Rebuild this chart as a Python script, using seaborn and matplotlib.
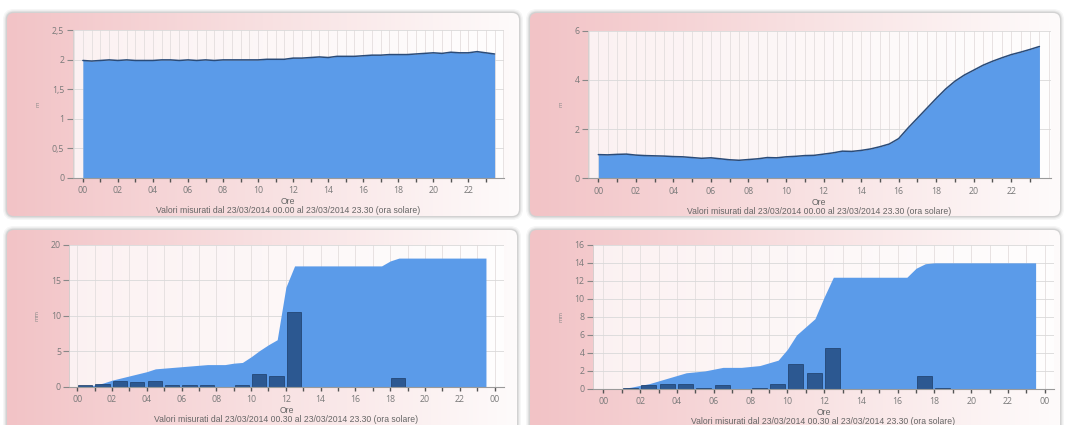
import numpy as np
import matplotlib
matplotlib.use('Agg')
from matplotlib import pyplot as plt
from matplotlib.patches import FancyBboxPatch
from matplotlib.colors import LinearSegmentedColormap
from matplotlib.ticker import FixedLocator, FuncFormatter, MultipleLocator
import seaborn as sns

# half-hourly readings, 00.00 .. 23.30
TIME = [0.0, 0.5, 1.0, 1.5, 2.0, 2.5, 3.0, 3.5, 4.0, 4.5, 5.0, 5.5,
        6.0, 6.5, 7.0, 7.5, 8.0, 8.5, 9.0, 9.5, 10.0, 10.5, 11.0, 11.5,
        12.0, 12.5, 13.0, 13.5, 14.0, 14.5, 15.0, 15.5, 16.0, 16.5, 17.0, 17.5,
        18.0, 18.5, 19.0, 19.5, 20.0, 20.5, 21.0, 21.5, 22.0, 22.5, 23.0, 23.5]

# water level (m), station A
LEVEL_A = [1.99, 1.98, 1.99, 2.00, 1.99, 2.00, 1.99, 1.99,
           1.99, 2.00, 2.00, 1.99, 2.00, 1.99, 2.00, 1.99,
           2.00, 2.00, 2.00, 2.00, 2.00, 2.01, 2.01, 2.01,
           2.03, 2.03, 2.04, 2.05, 2.04, 2.06, 2.06, 2.06,
           2.07, 2.08, 2.08, 2.09, 2.09, 2.09, 2.10, 2.11,
           2.12, 2.11, 2.13, 2.12, 2.12, 2.14, 2.12, 2.10]

# water level (m), station B
LEVEL_B = [0.97, 0.96, 0.98, 0.99, 0.95, 0.93, 0.92, 0.91,
           0.89, 0.88, 0.85, 0.82, 0.84, 0.80, 0.76, 0.74,
           0.77, 0.80, 0.85, 0.84, 0.88, 0.90, 0.93, 0.94,
           0.99, 1.04, 1.11, 1.10, 1.14, 1.20, 1.29, 1.40,
           1.62, 2.05, 2.45, 2.85, 3.25, 3.63, 3.95, 4.20,
           4.40, 4.60, 4.76, 4.90, 5.03, 5.13, 5.24, 5.36]

# cumulative rain (mm), gauge A
RAIN_CUM_A = [0.0, 0.1, 0.2, 0.5, 0.9, 1.2, 1.5, 1.8,
              2.1, 2.5, 2.6, 2.7, 2.8, 2.9, 3.0, 3.1,
              3.1, 3.1, 3.3, 3.4, 4.2, 5.1, 5.9, 6.6,
              14.0, 17.0, 17.0, 17.0, 17.0, 17.0, 17.0, 17.0,
              17.0, 17.0, 17.0, 17.0, 17.7, 18.1, 18.1, 18.1,
              18.1, 18.1, 18.1, 18.1, 18.1, 18.1, 18.1, 18.1]

# cumulative rain (mm), gauge B
RAIN_CUM_B = [0.0, 0.0, 0.05, 0.2, 0.4, 0.6, 0.9, 1.2,
              1.5, 1.8, 1.9, 2.0, 2.2, 2.4, 2.4, 2.4,
              2.5, 2.6, 2.9, 3.2, 4.4, 6.0, 6.9, 7.8,
              10.2, 12.4, 12.4, 12.4, 12.4, 12.4, 12.4, 12.4,
              12.4, 12.4, 13.4, 13.9, 14.0, 14.0, 14.0, 14.0,
              14.0, 14.0, 14.0, 14.0, 14.0, 14.0, 14.0, 14.0]

# hourly rain (mm)
HOURS = [0, 1, 2, 3, 4, 5, 6, 7, 8, 9, 10, 11,
         12, 13, 14, 15, 16, 17, 18, 19, 20, 21, 22, 23]
RAIN_HOUR_A = [0.2, 0.3, 0.8, 0.6, 0.8, 0.2, 0.2, 0.2, 0.0, 0.2, 1.8, 1.5,
               10.5, 0.0, 0.0, 0.0, 0.0, 0.0, 1.2, 0.0, 0.0, 0.0, 0.0, 0.0]
RAIN_HOUR_B = [0.0, 0.15, 0.4, 0.6, 0.6, 0.15, 0.4, 0.0, 0.15, 0.6, 2.8, 1.8,
               4.6, 0.0, 0.0, 0.0, 0.0, 1.4, 0.15, 0.0, 0.0, 0.0, 0.0, 0.0]

CAPTION_TOP = 'Ore\nValori misurati dal 23/03/2014 00.00 al 23/03/2014 23.30 (ora solare)'
CAPTION_BOTTOM = 'Ore\nValori misurati dal 23/03/2014 00.30 al 23/03/2014 23.30 (ora solare)'

AREA = '#5b9be9'
LINE = '#2a4b78'
BAR = '#2c5891'
BAR_EDGE = '#1d3c66'
W, H = 1065, 425


def comma(v, _pos):
    return '{:g}'.format(v).replace('.', ',')


def hour_label(v, _pos):
    h = int(round(v))
    return '{:02d}'.format(h % 24) if h % 2 == 0 else ''


def make_axes(fig, left, right, top, bottom):
    ax = fig.add_axes([left / W, 1 - bottom / H, (right - left) / W, (bottom - top) / H])
    ax.set_facecolor('white')
    ax.patch.set_alpha(0.75)
    return ax


def style_axes(ax, xlim, ymax, ystep, ylabel, caption, last_hour, half_grid):
    ax.set_xlim(*xlim)
    ax.set_ylim(0, ymax)
    ax.xaxis.set_major_locator(FixedLocator(list(range(0, last_hour + 1))))
    ax.xaxis.set_major_formatter(FuncFormatter(hour_label))
    ax.yaxis.set_major_locator(MultipleLocator(ystep))
    ax.yaxis.set_major_formatter(FuncFormatter(comma))
    ax.set_axisbelow(True)
    ax.grid(axis='y', color='#d9d9d9', lw=0.6)
    ax.grid(axis='x', which='major', color='#e4dede', lw=0.6)
    if half_grid:
        ax.xaxis.set_minor_locator(MultipleLocator(0.5))
        ax.grid(axis='x', which='minor', color='#e4dede', lw=0.6)
        ax.tick_params(axis='x', which='minor', length=0, bottom=False)
    ax.tick_params(axis='x', which='major', bottom=True, length=3, width=1.0,
                   color='#555555', pad=3, labelsize=6.3, labelcolor='#7a7a7a')
    ax.tick_params(axis='y', left=True, length=4, width=0.8, color='#888888', pad=2,
                   labelsize=6.3, labelcolor='#7a7a7a')
    for s in ('top', 'right'):
        ax.spines[s].set_visible(False)
    ax.spines['left'].set_color('#d0c8c8')
    ax.spines['left'].set_linewidth(0.6)
    ax.spines['bottom'].set_color('#9a9a9a')
    ax.spines['bottom'].set_linewidth(0.8)
    ax.set_ylabel(ylabel, fontsize=4.2, color='#888888', labelpad=8)
    ax.set_xlabel(caption, fontsize=6.2, color='#666666', labelpad=1.5,
                  linespacing=0.95, family=['Liberation Sans', 'DejaVu Sans'])


sns.set_theme(style='white')
plt.rcParams['font.family'] = ['Open Sans', 'DejaVu Sans']

fig = plt.figure(figsize=(10.65, 4.25), dpi=100)
fig.patch.set_facecolor('white')

# background cards with pink-to-white gradient and soft shadow
bg = fig.add_axes([0, 0, 1, 1], zorder=-10)
bg.axis('off')
card_cmap = LinearSegmentedColormap.from_list('card', ['#f2c3c6', '#f8e0e1', '#fefbfb'])
grad = np.linspace(0, 1, 256)[None, :]
cards = [(7, 13, 519, 216), (530, 13, 1060, 216),
         (7, 230, 517, 445), (530, 230, 1060, 445)]
for x0, y0, x1, y1 in cards:
    for k, a in [(4.0, 0.05), (2.6, 0.08), (1.4, 0.14)]:
        bg.add_patch(FancyBboxPatch((x0 - k, y0 - k), x1 - x0 + 2 * k, y1 - y0 + 2 * k,
                                    boxstyle='round,pad=0,rounding_size={}'.format(7 + k),
                                    fc='#505050', ec='none', alpha=a, zorder=1))
    card = FancyBboxPatch((x0, y0), x1 - x0, y1 - y0,
                          boxstyle='round,pad=0,rounding_size=7', fc='none', ec='none')
    bg.add_patch(card)
    im = bg.imshow(grad, cmap=card_cmap, extent=(x0, x1, y1, y0), aspect='auto', zorder=3)
    im.set_clip_path(card)
bg.set_xlim(0, W)
bg.set_ylim(H, 0)

# top-left: level A
ax1 = make_axes(fig, 72.7, 503.7, 30.4, 177.8)
ax1.fill_between(TIME, LEVEL_A, color=AREA, lw=0)
sns.lineplot(x=TIME, y=LEVEL_A, ax=ax1, color=LINE, lw=1.1)
style_axes(ax1, (-0.58, 24.02), 2.5, 0.5, 'm', CAPTION_TOP, 23, True)

# top-right: level B
ax2 = make_axes(fig, 588, 1050.5, 30.7, 178.5)
ax2.fill_between(TIME, LEVEL_B, color=AREA, lw=0)
sns.lineplot(x=TIME, y=LEVEL_B, ax=ax2, color=LINE, lw=1.1)
style_axes(ax2, (-0.55, 24.09), 6, 2, 'm', CAPTION_TOP, 23, True)

# bottom-left: rain A
ax3 = make_axes(fig, 69.3, 503.7, 244.6, 386.6)
ax3.fill_between(TIME, RAIN_CUM_A, color=AREA, lw=0)
hrs = [h + 0.46 for h, v in zip(HOURS, RAIN_HOUR_A) if v > 0]
vals = [v for v in RAIN_HOUR_A if v > 0]
sns.barplot(x=hrs, y=vals, native_scale=True, width=0.82, color=BAR, saturation=1,
            edgecolor=BAR_EDGE, linewidth=0.5, errorbar=None, ax=ax3)
style_axes(ax3, (-0.45, 24.52), 20, 5, 'mm', CAPTION_BOTTOM, 24, False)

# bottom-right: rain B
ax4 = make_axes(fig, 593, 1054, 244.8, 389)
ax4.fill_between(TIME, RAIN_CUM_B, color=AREA, lw=0)
hrs = [h + 0.46 for h, v in zip(HOURS, RAIN_HOUR_B) if v > 0]
vals = [v for v in RAIN_HOUR_B if v > 0]
sns.barplot(x=hrs, y=vals, native_scale=True, width=0.82, color=BAR, saturation=1,
            edgecolor=BAR_EDGE, linewidth=0.5, errorbar=None, ax=ax4)
style_axes(ax4, (-0.57, 24.5), 16, 2, 'mm', CAPTION_BOTTOM, 24, False)

fig.savefig('out.png', dpi=100)
plt.close(fig)
